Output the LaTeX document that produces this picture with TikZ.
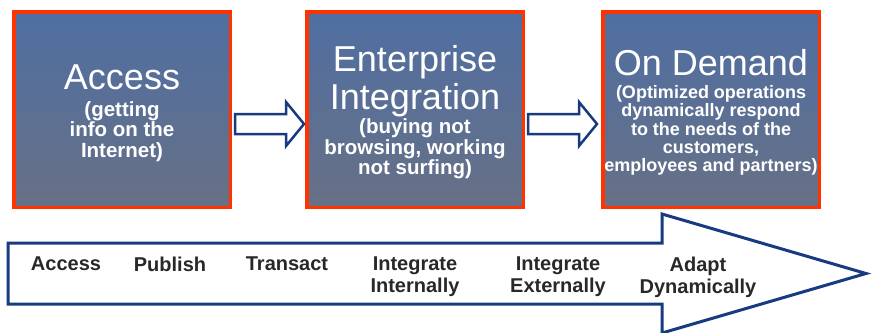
\documentclass[tikz,border=0pt]{standalone}
\usepackage{fontspec}
\setmainfont{Liberation Sans}
\usetikzlibrary{positioning,calc}
\definecolor{kastenoben}{RGB}{79,111,162}
\definecolor{kastenunten}{RGB}{103,112,134}
\definecolor{rand}{RGB}{255,51,0}
\definecolor{dunkelblau}{RGB}{24,58,128}
\definecolor{schrift}{RGB}{40,40,40}
\newcommand\titel[1]{{\mdseries\fontsize{36}{38}\selectfont #1}}
\newcommand\hoch{\rule{0pt}{32pt}}
\begin{document}
\begin{tikzpicture}[x=1pt,y=-1pt,line join=miter,
	stufe/.style={draw=rand,line width=3.5pt,top color=kastenoben,bottom color=kastenunten,
		minimum width=216.5pt,minimum height=195.5pt,inner sep=0pt,text=white,align=center,
		font=\bfseries\fontsize{20.5}{20.5}\selectfont},
	hohl/.style={draw=dunkelblau,line width=2.5pt,fill=white},
	etappe/.style={anchor=north,inner sep=0pt,align=center,text=schrift,
		font=\bfseries\fontsize{20}{22}\selectfont}]
	\useasboundingbox (0,0) rectangle (872,332);
	% Kaesten
	\node[stufe] (access) at (122,109.5) {\hoch\titel{Access}\\[6.5pt](getting\\info on the\\Internet)};
	\node[stufe] (integration) at (415,109.5) {\hoch\titel{Enterprise}\\[3pt]\titel{Integration}\\[1pt](buying not\\browsing, working\\not surfing)};
	\node[stufe,font=\bfseries\fontsize{18}{18.3}\selectfont] (demand) at (711,109.5)
		{\hoch\titel{On Demand}\\[4.7pt](Optimized operations\\dynamically respond\\to the needs of the\\customers,\\employees and partners)};
	% Blockpfeile zwischen den Kaesten
	\draw[hohl] ($(access.east)+(3,14.5)$) ++(0,-10) -- ++(51,0) -- ++(0,-12) -- ++(18,22) -- ++(-18,22) -- ++(0,-12) -- ++(-51,0) -- cycle;
	\draw[hohl] ($(integration.east)+(3,14.5)$) ++(0,-10) -- ++(51,0) -- ++(0,-12) -- ++(18,22) -- ++(-18,22) -- ++(0,-12) -- ++(-51,0) -- cycle;
	% Zeitstrahl
	\coordinate (a) at (8,243);
	\coordinate (b) at (662,243);
	\coordinate (c) at (662,214);
	\coordinate (d) at (866,273.5);
	\coordinate (e) at (662,333);
	\coordinate (f) at (662,304);
	\coordinate (g) at (8,304);
	\draw[draw=dunkelblau,line width=3pt] (a) -- (b) -- (c) -- (d) -- (e) -- (f) -- (g) -- cycle;
	% Etappen
	\node[etappe] (e1) at (66,256.5) {Access};
	\node[etappe] (e2) at (170,256.5) {Publish};
	\node[etappe] (e3) at (287,256.5) {Transact};
	\node[etappe] (e4) at (415,256.5) {Integrate\\Internally};
	\node[etappe] (e5) at (558,256.5) {Integrate\\Externally};
	\node[etappe] (e6) at (698,256.5) {Adapt\\Dynamically};
\end{tikzpicture}
\end{document}
